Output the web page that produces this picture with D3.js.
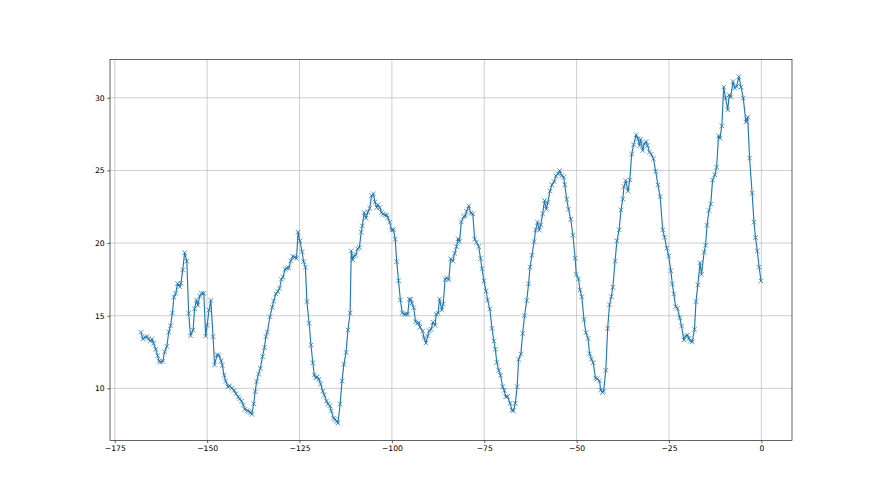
<!DOCTYPE html>
<html><head><meta charset="utf-8">
<script src="https://cdn.jsdelivr.net/npm/d3@7/dist/d3.min.js"></script>
<style>body{margin:0;background:#fff}svg{display:block}</style>
</head><body><svg id="c" width="880" height="495"></svg>
<script>
const hours = [
-167.9,-167.4,-166.8,-166.3,-165.8,-165.4,-164.9,-164.5,-163.9,-163.4,-163.0,-162.6,-162.0,-161.5,-160.9,-160.4,-159.9,-159.4,-159.0,-158.5,
-158.0,-157.4,-157.1,-156.6,-156.1,-155.5,-155.0,-154.5,-153.8,-153.4,-152.9,-152.5,-152.0,-151.5,-150.9,-150.4,-150.0,-149.5,-149.0,-148.4,
-148.0,-147.3,-146.8,-146.2,-145.9,-145.4,-145.0,-144.4,-143.9,-143.3,-142.7,-142.2,-141.6,-141.2,-140.7,-140.2,-139.8,-139.1,-138.7,-138.3,
-137.9,-137.4,-137.0,-136.6,-136.1,-135.6,-135.0,-134.5,-134.1,-133.7,-133.0,-132.4,-132.0,-131.4,-130.9,-130.4,-129.9,-129.5,-128.9,-128.4,
-127.9,-127.4,-126.8,-126.3,-125.8,-125.4,-124.9,-124.3,-123.9,-123.4,-123.0,-122.4,-121.9,-121.4,-121.0,-120.6,-120.2,-119.7,-119.3,-118.7,
-118.3,-117.7,-117.3,-116.8,-116.4,-115.8,-115.4,-114.9,-114.6,-114.0,-113.5,-113.0,-112.4,-111.9,-111.3,-111.0,-110.6,-110.2,-109.8,-109.3,
-108.8,-108.3,-108.0,-107.5,-107.0,-106.5,-106.0,-105.5,-105.0,-104.6,-104.1,-103.8,-103.3,-102.8,-102.4,-101.9,-101.4,-101.1,-100.6,-100.1,
-99.6,-99.1,-98.7,-98.2,-97.7,-97.2,-96.7,-96.2,-95.7,-95.3,-94.9,-94.6,-94.1,-93.6,-93.1,-92.7,-92.4,-91.7,-91.3,-90.8,
-90.3,-89.9,-89.4,-88.9,-88.3,-88.0,-87.5,-87.1,-86.5,-86.1,-85.6,-85.2,-84.6,-84.1,-83.5,-83.0,-82.5,-82.1,-81.7,-81.2,
-80.6,-80.1,-79.8,-79.2,-78.6,-78.1,-77.6,-77.1,-76.5,-76.0,-75.6,-75.1,-74.5,-74.1,-73.5,-72.9,-72.4,-72.0,-71.6,-71.1,
-70.6,-70.0,-69.6,-69.2,-68.7,-68.0,-67.5,-67.1,-66.6,-66.1,-65.7,-65.1,-64.6,-64.1,-63.5,-63.0,-62.6,-62.1,-61.5,-61.1,
-60.6,-60.1,-59.7,-59.2,-58.7,-58.2,-57.8,-57.2,-56.7,-56.1,-55.6,-55.0,-54.6,-54.0,-53.5,-53.2,-52.7,-52.2,-51.6,-51.0,
-50.4,-50.1,-49.5,-49.1,-48.6,-48.0,-47.5,-46.9,-46.5,-46.0,-45.5,-44.9,-44.4,-43.8,-43.5,-43.0,-42.7,-42.1,-41.6,-41.1,
-40.6,-40.2,-39.6,-39.1,-38.5,-38.0,-37.5,-37.2,-36.7,-36.1,-35.6,-35.1,-34.6,-33.9,-33.4,-33.0,-32.7,-32.1,-31.7,-31.2,
-30.8,-30.3,-29.8,-29.2,-28.6,-28.0,-27.4,-26.7,-26.2,-25.6,-25.1,-24.5,-24.1,-23.7,-23.2,-22.7,-22.1,-21.6,-21.0,-20.5,
-20.0,-19.6,-19.2,-18.7,-18.1,-17.7,-17.2,-16.6,-16.2,-15.5,-15.1,-14.7,-14.2,-13.7,-13.2,-12.6,-12.1,-11.6,-11.2,-10.7,
-10.2,-9.7,-9.1,-8.7,-8.3,-7.7,-7.2,-6.7,-6.1,-5.5,-4.9,-4.2,-3.7,-3.2,-2.5,-2.0,-1.6,-1.1,-0.6,-0.1
];
const temps = [
13.86,13.40,13.51,13.56,13.42,13.26,13.38,13.10,12.69,12.25,11.86,11.81,11.86,12.52,12.89,13.88,14.31,15.19,16.27,16.54,
17.21,17.00,17.23,18.15,19.34,18.75,15.17,13.62,14.02,15.48,16.08,15.72,16.36,16.54,16.54,13.60,14.34,15.39,16.06,13.56,
11.61,12.31,12.27,11.90,11.58,10.90,10.50,10.11,10.18,10.00,9.86,9.63,9.42,9.28,9.13,8.85,8.55,8.48,8.41,8.35,
8.21,8.94,9.77,10.48,10.99,11.38,12.20,12.80,13.56,13.88,14.93,15.58,16.01,16.50,16.66,16.89,17.51,17.65,18.20,18.27,
18.30,18.77,19.09,19.02,18.96,20.75,20.15,19.41,18.72,18.34,15.97,14.48,12.98,11.76,10.92,10.73,10.80,10.62,10.30,9.81,
9.54,9.13,8.92,8.80,8.44,7.95,7.86,7.73,7.60,8.92,10.50,11.65,12.48,14.02,15.19,19.46,18.84,19.12,19.18,19.60,
19.69,20.75,21.18,22.10,21.71,22.13,22.40,23.27,23.39,22.83,22.44,22.63,22.44,22.10,21.99,21.94,21.92,21.75,21.44,20.89,
20.93,20.27,18.72,17.41,16.08,15.21,15.10,15.10,15.12,16.13,16.13,15.86,15.55,14.59,14.48,14.52,14.22,13.95,13.49,13.12,
13.60,13.97,14.06,14.55,14.34,15.10,15.17,16.15,15.39,15.81,17.50,17.60,17.48,18.91,18.77,19.30,19.76,20.29,20.10,21.46,
21.82,21.87,22.19,22.56,22.06,22.01,20.27,20.06,19.76,18.93,18.24,17.39,16.70,16.08,15.46,14.13,13.26,12.69,11.79,11.24,
10.90,10.11,9.86,9.42,9.45,8.97,8.50,8.46,8.97,10.11,12.00,12.36,13.79,15.00,16.05,17.20,18.35,19.16,20.10,20.91,
21.44,20.89,21.25,22.01,22.93,22.33,22.79,23.59,24.01,24.23,24.63,24.76,24.99,24.63,24.54,24.01,23.02,22.33,21.64,20.54,
18.96,17.85,17.53,16.77,16.31,14.73,13.83,13.44,12.38,12.02,11.76,10.71,10.66,10.52,9.88,9.72,9.81,11.24,14.13,15.75,
16.31,16.96,18.75,20.15,20.91,22.28,23.04,23.89,24.30,23.57,24.35,26.12,26.76,27.45,27.18,26.71,27.15,26.37,26.83,26.99,
26.71,26.26,26.12,25.80,24.92,24.01,23.20,20.91,20.40,19.65,19.11,18.10,17.19,16.50,15.62,15.51,14.86,14.29,13.33,13.60,
13.67,13.44,13.26,13.21,14.06,15.97,17.12,18.65,17.85,19.37,19.85,21.23,22.24,22.68,24.35,24.70,25.23,27.38,27.22,28.07,
30.74,29.98,29.17,30.21,30.05,31.12,30.67,30.78,31.45,30.74,29.98,28.33,28.67,25.85,23.43,21.44,20.38,19.46,18.34,17.39
];
const xTicks = [-175,-150,-125,-100,-75,-50,-25,0];
const yTicks = [10,15,20,25,30];

const L = 110, R = 792, T = 59.4, B = 440.55;
const s = 0.55; // point-to-pixel scale of the picture
function pad(ext){ const d = (ext[1]-ext[0])*0.05; return [ext[0]-d, ext[1]+d]; }
const x = d3.scaleLinear().domain(pad(d3.extent(hours))).range([L, R]);
const y = d3.scaleLinear().domain(pad(d3.extent(temps))).range([B, T]);
const data = hours.map((h,i)=>({h, t: temps[i]}));
const fmt = d => (d < 0 ? "\u2212" + Math.abs(d) : String(d));

const svg = d3.select("#c");
svg.append("rect").attr("width",880).attr("height",495).attr("fill","#fff");

// grid
const g = svg.append("g").attr("stroke","#b0b0b0").attr("stroke-width",0.8*1.389*s);
g.selectAll("line.gx").data(xTicks).join("line").attr("class","gx")
  .attr("x1",d=>x(d)).attr("x2",d=>x(d)).attr("y1",T).attr("y2",B);
g.selectAll("line.gy").data(yTicks).join("line").attr("class","gy")
  .attr("y1",d=>y(d)).attr("y2",d=>y(d)).attr("x1",L).attr("x2",R);

// line + markers
const clip = svg.append("clipPath").attr("id","cl").append("rect")
  .attr("x",L).attr("y",T).attr("width",R-L).attr("height",B-T);
const plot = svg.append("g").attr("clip-path","url(#cl)");
plot.append("path").datum(data)
  .attr("d", d3.line().x(d=>x(d.h)).y(d=>y(d.t)))
  .attr("fill","none").attr("stroke","#1f77b4").attr("stroke-width",1.5*1.389*s)
  .attr("stroke-linejoin","round");
const ms = 6*1.389*s/2;
plot.append("g").selectAll("path").data(data).join("path")
  .attr("transform",d=>`translate(${x(d.h)},${y(d.t)})`)
  .attr("d",`M${-ms},${-ms}L${ms},${ms}M${-ms},${ms}L${ms},${-ms}`)
  .attr("stroke","#1f77b4").attr("stroke-width",1*1.389*s).attr("fill","none");

// axes
const tl = 3.5*1.389*s;
const fs = 10*1.389*s;
const ax = svg.append("g").attr("transform",`translate(0,${B})`)
  .call(d3.axisBottom(x).tickValues(xTicks).tickSize(tl).tickPadding(tl).tickFormat(fmt));
const ay = svg.append("g").attr("transform",`translate(${L},0)`)
  .call(d3.axisLeft(y).tickValues(yTicks).tickSize(tl).tickPadding(tl).tickFormat(fmt));
[ax, ay].forEach(a => {
  a.select(".domain").remove();
  a.selectAll("line").attr("stroke","#000").attr("stroke-width",0.8*1.389*s);
  a.selectAll("text").attr("fill","#000").style("font-family","'DejaVu Sans'").style("font-size",fs+"px");
});

// spines
svg.append("rect").attr("x",L).attr("y",T).attr("width",R-L).attr("height",B-T)
  .attr("fill","none").attr("stroke","#000").attr("stroke-width",0.8*1.389*s);
</script></body></html>
